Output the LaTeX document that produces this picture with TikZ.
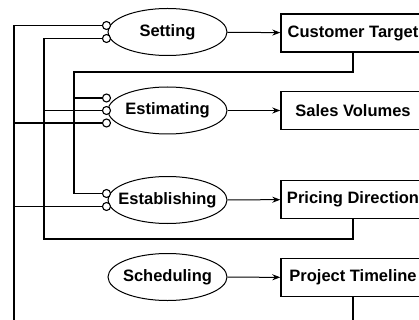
\documentclass[tikz,border=0pt]{standalone}
\usepackage{fontspec}
\setmainfont{Liberation Sans}
\usetikzlibrary{shapes.geometric,arrows.meta}
\begin{document}
\begin{tikzpicture}[x=1pt,y=-1pt,
  lbl/.style={font=\fontsize{16.5}{18}\selectfont\bfseries},
  oval/.style={ellipse,draw,line width=1pt,minimum width=119pt,minimum height=47pt,inner xsep=-8pt,inner ysep=0pt,lbl},
  box/.style={rectangle,draw,line width=1.4pt,minimum width=144pt,minimum height=38pt,inner sep=0pt,lbl},
  port/.style={circle,draw,line width=1.1pt,fill=white,minimum size=8pt,inner sep=0pt},
  link/.style={line width=1.6pt},
  arr/.style={line width=1pt,-{Stealth[length=8pt,width=6pt]}}]
\useasboundingbox (0,0) rectangle (419,320);
\clip (0,0) rectangle (419,320);
% ovals
\node[oval] (set) at (167.5,32) {Setting};
\node[oval] (est) at (167.5,110.5) {Estimating};
\node[oval] (esb) at (167.5,200) {Establishing};
\node[oval] (sch) at (167.5,277) {Scheduling};
% boxes
\node[box] (ct) at (353,33) {Customer Target};
\node[box] (sv) at (353,110.5) {Sales Volumes};
\node[box] (pd) at (353,199.5) {Pricing Direction};
\node[box] (pt) at (353,277.5) {Project Timeline};
% arrows
\draw[arr] (set) -- (ct);
\draw[arr] (est) -- (sv);
\draw[arr] (esb) -- (pd);
\draw[arr] (sch) -- (pt);
% ports
\node[port] (setA) at ([xshift=-1pt,yshift=6.5pt]set.west) {};
\node[port] (setB) at ([xshift=-1pt,yshift=-6.5pt]set.west) {};
\node[port] (estA) at ([xshift=-1pt,yshift=12.5pt]est.west) {};
\node[port] (estB) at ([xshift=-1pt]est.west) {};
\node[port] (estC) at ([xshift=-1pt,yshift=-12.5pt]est.west) {};
\node[port] (esbA) at ([xshift=-1pt,yshift=6.5pt]esb.west) {};
\node[port] (esbB) at ([xshift=-1pt,yshift=-6.5pt]esb.west) {};
% corner coordinates
\coordinate (c1) at (353,72);
\coordinate (c1l) at (74,72);
\coordinate (c2) at (44,239);
\coordinate (c2r) at (353,239);
\coordinate (c3) at (14,335);
\coordinate (c3r) at (353,335);
% link 1
\draw[link] (ct.south) -- (c1) -- (c1l) |- (esbA.west);
\draw[link] (c1l |- estA.west) -- (estA.west);
% link 2
\draw[link] (setB.west) -| (c2) -- (c2r) -- (pd.south);
\draw[link] (c2 |- estB.west) -- (estB.west);
% link 3
\draw[link] (setA.west) -| (c3) -- (c3r) -- (pt.south);
\draw[link] (c3 |- estC.west) -- (estC.west);
\draw[link] (c3 |- esbB.west) -- (esbB.west);
\end{tikzpicture}
\end{document}
